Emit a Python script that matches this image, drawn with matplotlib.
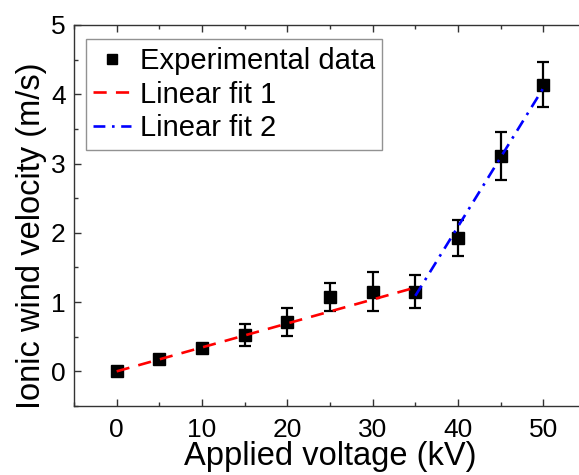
import numpy as np
import matplotlib
matplotlib.use("Agg")
import matplotlib.pyplot as plt
from matplotlib.ticker import MultipleLocator
from matplotlib.lines import Line2D

plt.rcParams["font.family"] = ["Liberation Sans", "DejaVu Sans"]

# measured data
voltage = [0, 5, 10, 15, 20, 25, 30, 35, 40, 45, 50]
velocity = [0.0, 0.18, 0.33, 0.52, 0.71, 1.07, 1.15, 1.15, 1.92, 3.11, 4.14]
velocity_err = [0.05, 0.04, 0.07, 0.16, 0.2, 0.2, 0.28, 0.24, 0.26, 0.35, 0.33]

# fit lines (end points)
fit1_x = [0, 35]
fit1_y = [0.0, 1.21]
fit2_x = [35, 50]
fit2_y = [1.09, 4.09]

fig = plt.figure(figsize=(5.79, 4.75), dpi=100)
ax = fig.add_axes([0.1278, 0.1453, 0.8843, 0.8021])

ax.errorbar(
    voltage, velocity, yerr=velocity_err,
    fmt="s", color="black", markersize=8,
    elinewidth=1.6, capsize=4.5, capthick=1.6, zorder=3
)
fit1, = ax.plot(fit1_x, fit1_y, color="#ff0000", lw=1.9,
                linestyle=(0, (5, 3.5)), zorder=4)
fit2, = ax.plot(fit2_x, fit2_y, color="#0000ff", lw=1.9,
                linestyle=(0, (4.5, 2.5, 1, 2.5)), zorder=4)
data_handle = Line2D([], [], marker="s", color="black", linestyle="none",
                     markersize=7.5)

ax.set_xlim(-5, 55)
ax.set_ylim(-0.5, 5)
ax.xaxis.set_major_locator(MultipleLocator(10))
ax.xaxis.set_minor_locator(MultipleLocator(5))
ax.yaxis.set_major_locator(MultipleLocator(1))
ax.yaxis.set_minor_locator(MultipleLocator(0.5))
ax.tick_params(which="both", direction="in", top=True, right=True,
               width=1.0, labelsize=19, color="#333333")
ax.tick_params(which="major", length=5, pad=6)
ax.tick_params(which="minor", length=3)
ax.tick_params(axis="x", which="major", pad=9)
for s in ax.spines.values():
    s.set_linewidth(1.0)
    s.set_color("#333333")

ax.set_xlabel("Applied voltage (kV)", fontsize=23.5, labelpad=-1)
ax.set_ylabel("Ionic wind velocity (m/s)", fontsize=23.5)
ax.yaxis.set_label_coords(-0.053, 0.446)

leg = ax.legend(
    [data_handle, fit1, fit2],
    ["Experimental data", "Linear fit 1", "Linear fit 2"],
    loc="upper left", bbox_to_anchor=(0.023, 0.962),
    fontsize=21, frameon=True, fancybox=False,
    borderpad=0.25, labelspacing=0.2, handlelength=1.3,
    handletextpad=0.3, borderaxespad=0
)
leg.get_frame().set_edgecolor("#777777")
leg.get_frame().set_linewidth(1.0)

fig.savefig("out.png", dpi=100)
